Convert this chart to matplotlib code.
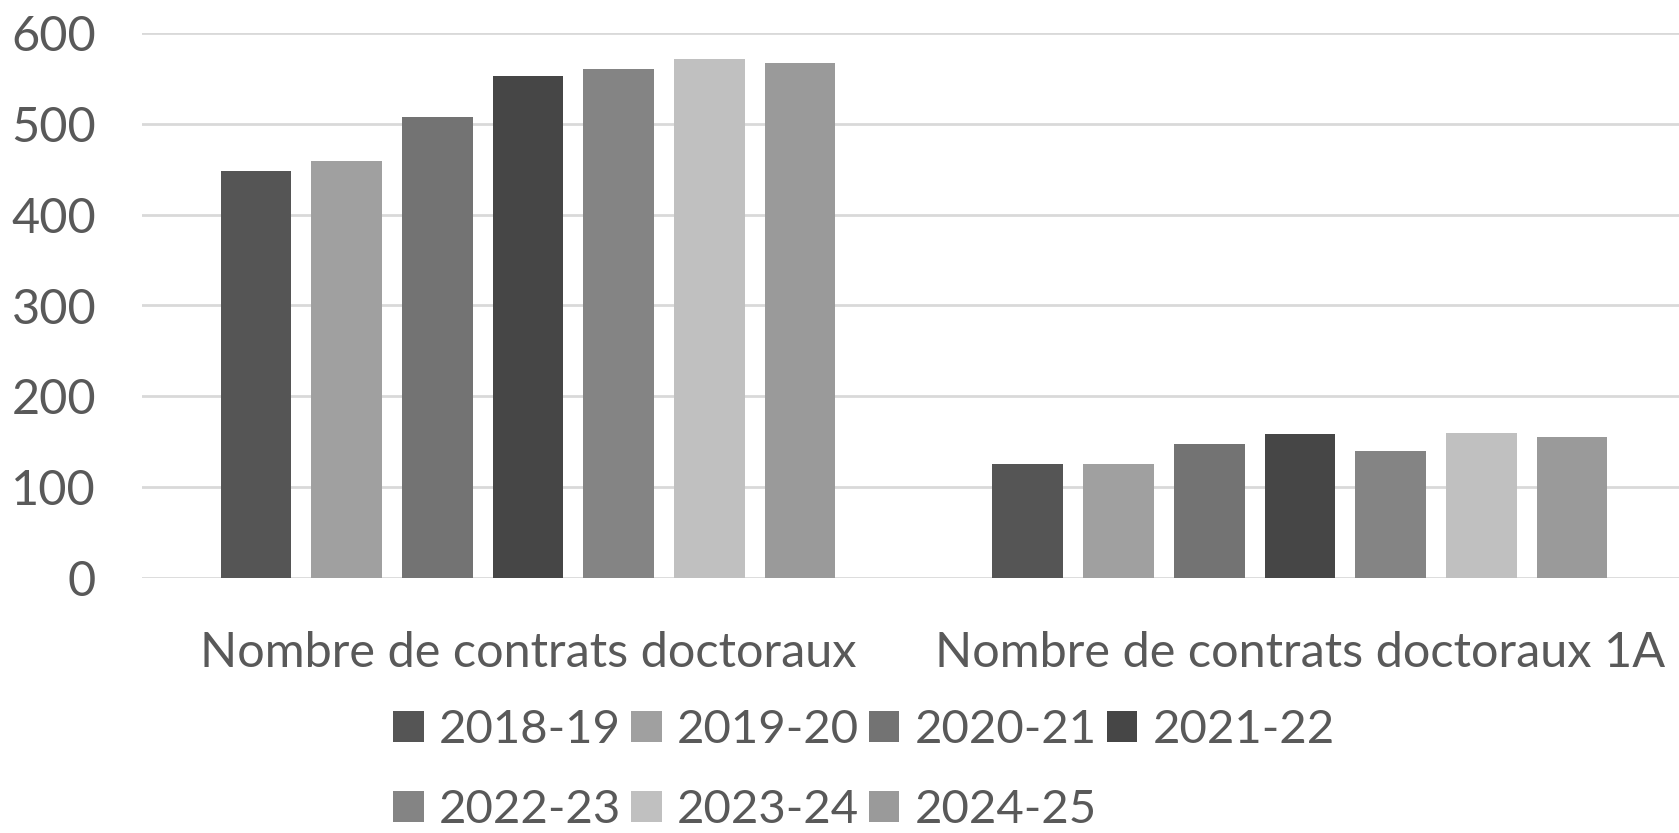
import matplotlib
matplotlib.use("Agg")
import matplotlib.pyplot as plt
from matplotlib.patches import Patch
import numpy as np

categories = ["Nombre de contrats doctoraux", "Nombre de contrats doctoraux 1A"]
years = ["2018-19", "2019-20", "2020-21", "2021-22", "2022-23", "2023-24", "2024-25"]
values = {
    "2018-19": [448, 126],
    "2019-20": [459, 125],
    "2020-21": [508, 147],
    "2021-22": [553, 158],
    "2022-23": [560, 140],
    "2023-24": [571, 160],
    "2024-25": [567, 155],
}
colors = ["#555555", "#a0a0a0", "#737373", "#464646", "#848484", "#c0c0c0", "#9a9a9a"]
yticks = [0, 100, 200, 300, 400, 500, 600]

plt.rcParams['font.family'] = ['Lato', 'DejaVu Sans']
txt = "#595959"
FS = 35
FSL = 34
W, H = 1679, 833
fig = plt.figure(figsize=(W / 100, H / 100), dpi=100)
ax = fig.add_axes([142 / W, 1 - 578 / H, (W - 142) / W, (578 - 33) / H])

x = np.arange(len(categories))
step = 0.1175
bw = 0.0916
handles = []
for i, (yr, c) in enumerate(zip(years, colors)):
    off = (i - 3) * step
    ax.bar(x + off, values[yr], width=bw, color=c, zorder=3)
    handles.append(Patch(facecolor=c, label=yr))

ax.set_xlim(-0.5, 1.491)
ax.set_ylim(0, 600)
ax.set_yticks(yticks)
ax.set_yticklabels([str(v) for v in yticks])
ax.set_xticks(x)
ax.set_xticklabels(categories)
ax.grid(axis='y', color='#d9d9d9', linewidth=2, zorder=0)
for s in ax.spines.values():
    s.set_visible(False)
ax.tick_params(axis='y', length=0, pad=33, labelsize=FS, labelcolor=txt)
ax.tick_params(axis='x', length=0, pad=38, labelsize=FS, labelcolor=txt)

order = [0, 4, 1, 5, 2, 6, 3]
leg = fig.legend([handles[i] for i in order], [years[i] for i in order],
                 ncol=4, loc='center', bbox_to_anchor=(864 / W, 1 - 770 / H),
                 frameon=False, fontsize=FSL, labelcolor=txt,
                 handlelength=0.64, handleheight=0.64, handletextpad=0.32,
                 columnspacing=0.22, labelspacing=0.8, borderaxespad=0,
                 borderpad=0)
for t in leg.get_texts():
    t.set_color(txt)

fig.savefig("out.png", dpi=100)
